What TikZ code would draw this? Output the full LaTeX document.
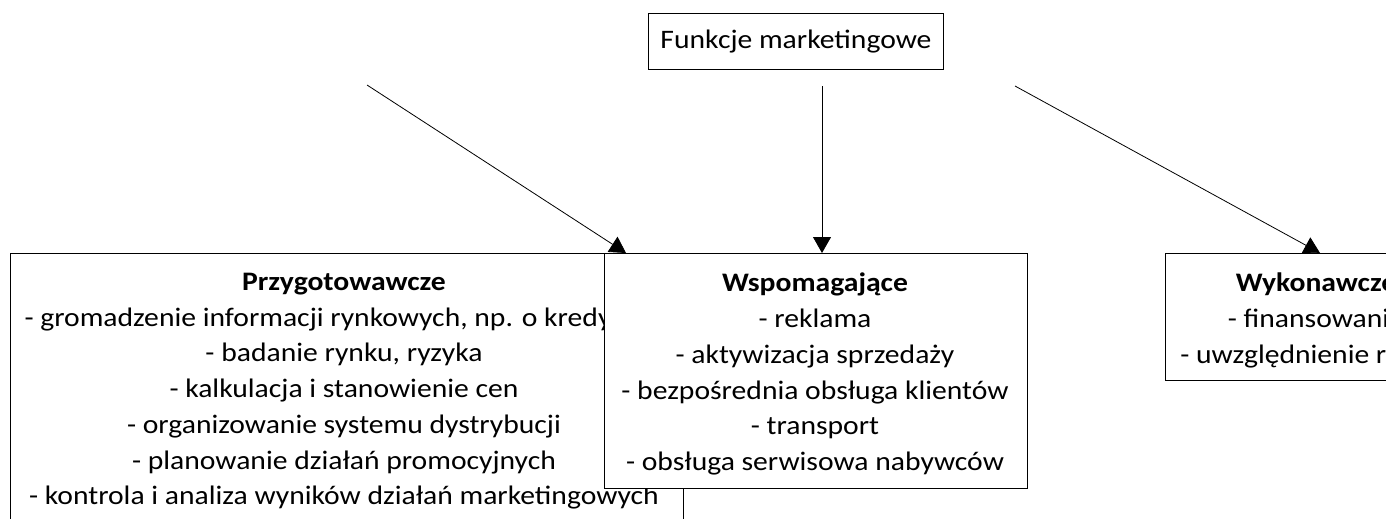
\documentclass[tikz,border=0pt]{standalone}
\usepackage{fontspec}
\setmainfont{Carlito}[FakeStretch=1.11]
\usetikzlibrary{arrows.meta}
\begin{document}
\begin{tikzpicture}[x=1pt,y=-1pt,
  box/.style={draw=black, line width=0.9pt, fill=white, inner sep=0pt, anchor=north west},
  txt/.style={align=center, inner sep=0pt, anchor=north, font=\fontsize{26.7}{35.7}\selectfont},
  conn/.style={line width=0.8pt, -{Triangle[width=18pt,length=16pt]}}]
\useasboundingbox (0,0) rectangle (1386,519);
\clip (0,0) rectangle (1386,519);
\node[box, minimum width=295pt, minimum height=56pt] (top) at (648,13) {};
\node[txt, anchor=center] (toptxt) at (top.center) {Funkcje marketingowe};
\node[box, minimum width=673pt, minimum height=300pt] (prz) at (10,253) {};
\node[txt] (prztxt) at (344,273) {\textbf{Przygotowawcze}\\- gromadzenie informacji rynkowych, np. o kredytach\\- badanie rynku, ryzyka\\- kalkulacja i stanowienie cen\\- organizowanie systemu dystrybucji\\- planowanie działań promocyjnych\\- kontrola i analiza wyników działań marketingowych};
\node[box, minimum width=423pt, minimum height=235pt] (wsp) at (604,253) {};
\node[txt] (wsptxt) at (815,273) {\textbf{Wspomagające}\\- reklama\\- aktywizacja sprzedaży\\- bezpośrednia obsługa klientów\\- transport\\- obsługa serwisowa nabywców};
\node[box, minimum width=290pt, minimum height=127pt] (wyk) at (1165,253) {};
\node[txt] (wyktxt) at (1316,273) {\textbf{Wykonawcze}\\- finansowanie\\- uwzględnienie ryzyka};
\coordinate (l0) at (367,85);
\coordinate (l1) at (626,253);
\coordinate (m0) at (822,86);
\coordinate (m1) at (822,253);
\coordinate (r0) at (1015,86);
\coordinate (r1) at (1320,253);
\draw[conn] (l0) -- (l1);
\draw[conn] (m0) -- (m1);
\draw[conn] (r0) -- (r1);
\end{tikzpicture}
\end{document}
